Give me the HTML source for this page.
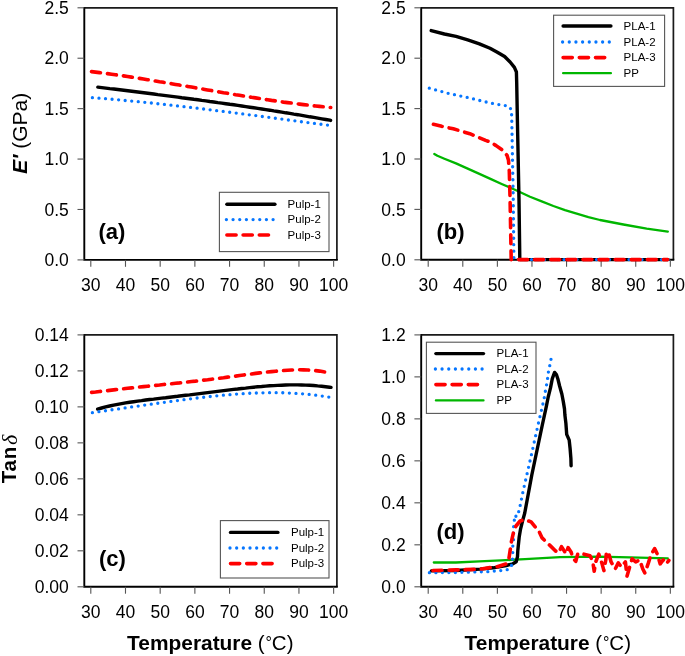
<!DOCTYPE html>
<html><head><meta charset="utf-8"><style>
html,body{margin:0;padding:0;background:#fff;}
svg{display:block;will-change:transform;}
text{font-family:"Liberation Sans", sans-serif;fill:#000;}
.t{font-size:17.5px;}
.lg{font-size:12px;}
.pl{font-size:22px;font-weight:bold;}
.ax{font-size:20.5px;}
</style></head><body>
<svg width="685" height="656" viewBox="0 0 685 656">
<rect width="685" height="656" fill="#fff"/>
<path d="M84.3,7.8 H336.9 V259.9" fill="none" stroke="#1a1a1a" stroke-width="1.7"/>
<path d="M84.3,7.0 V259.9 H337.79999999999995" fill="none" stroke="#000" stroke-width="1.9"/>
<line x1="77.5" y1="259.90" x2="84.3" y2="259.90" stroke="#555" stroke-width="1.1"/>
<text x="68.8" y="266.1" text-anchor="end" class="t">0.0</text>
<line x1="77.5" y1="209.48" x2="84.3" y2="209.48" stroke="#555" stroke-width="1.1"/>
<text x="68.8" y="215.7" text-anchor="end" class="t">0.5</text>
<line x1="77.5" y1="159.06" x2="84.3" y2="159.06" stroke="#555" stroke-width="1.1"/>
<text x="68.8" y="165.3" text-anchor="end" class="t">1.0</text>
<line x1="77.5" y1="108.64" x2="84.3" y2="108.64" stroke="#555" stroke-width="1.1"/>
<text x="68.8" y="114.8" text-anchor="end" class="t">1.5</text>
<line x1="77.5" y1="58.22" x2="84.3" y2="58.22" stroke="#555" stroke-width="1.1"/>
<text x="68.8" y="64.4" text-anchor="end" class="t">2.0</text>
<line x1="77.5" y1="7.80" x2="84.3" y2="7.80" stroke="#555" stroke-width="1.1"/>
<text x="68.8" y="14.0" text-anchor="end" class="t">2.5</text>
<line x1="90.80" y1="259.9" x2="90.80" y2="266.79999999999995" stroke="#555" stroke-width="1.1"/>
<text x="90.8" y="291.4" text-anchor="middle" class="t">30</text>
<line x1="125.49" y1="259.9" x2="125.49" y2="266.79999999999995" stroke="#555" stroke-width="1.1"/>
<text x="125.5" y="291.4" text-anchor="middle" class="t">40</text>
<line x1="160.18" y1="259.9" x2="160.18" y2="266.79999999999995" stroke="#555" stroke-width="1.1"/>
<text x="160.2" y="291.4" text-anchor="middle" class="t">50</text>
<line x1="194.87" y1="259.9" x2="194.87" y2="266.79999999999995" stroke="#555" stroke-width="1.1"/>
<text x="194.9" y="291.4" text-anchor="middle" class="t">60</text>
<line x1="229.56" y1="259.9" x2="229.56" y2="266.79999999999995" stroke="#555" stroke-width="1.1"/>
<text x="229.6" y="291.4" text-anchor="middle" class="t">70</text>
<line x1="264.25" y1="259.9" x2="264.25" y2="266.79999999999995" stroke="#555" stroke-width="1.1"/>
<text x="264.2" y="291.4" text-anchor="middle" class="t">80</text>
<line x1="298.94" y1="259.9" x2="298.94" y2="266.79999999999995" stroke="#555" stroke-width="1.1"/>
<text x="298.9" y="291.4" text-anchor="middle" class="t">90</text>
<line x1="333.63" y1="259.9" x2="333.63" y2="266.79999999999995" stroke="#555" stroke-width="1.1"/>
<text x="333.6" y="291.4" text-anchor="middle" class="t">100</text>
<path d="M91.5,71.6 L95.5,72.1 L99.5,72.6 L103.5,73.1 L107.5,73.6 L111.5,74.2 L115.5,74.8 L119.5,75.3 L123.5,75.9 L127.5,76.5 L131.5,77.1 L135.5,77.8 L139.5,78.4 L143.5,79.0 L147.5,79.7 L151.5,80.3 L155.5,81.0 L159.5,81.7 L163.5,82.3 L167.5,83.0 L171.5,83.7 L175.5,84.4 L179.5,85.1 L183.5,85.8 L187.5,86.4 L191.5,87.1 L195.5,87.8 L199.5,88.5 L203.5,89.2 L207.5,89.9 L211.5,90.6 L215.5,91.3 L219.5,92.0 L223.5,92.7 L227.5,93.3 L231.5,94.0 L235.5,94.7 L239.5,95.3 L243.5,96.0 L247.5,96.6 L251.5,97.3 L255.5,97.9 L259.5,98.5 L263.5,99.2 L267.5,99.8 L271.5,100.4 L275.5,100.9 L279.5,101.5 L283.5,102.1 L287.5,102.6 L291.5,103.1 L295.5,103.6 L299.5,104.1 L303.5,104.6 L307.5,105.1 L311.5,105.6 L315.5,106.0 L319.5,106.4 L323.5,106.8 L327.5,107.2 L330.7,107.5" fill="none" stroke="#ff0000" stroke-width="3.6" stroke-linecap="round" stroke-linejoin="round" stroke-dasharray="9.0 7.1"/>
<path d="M97.8,87.1 L101.8,87.6 L105.8,88.1 L109.8,88.6 L113.8,89.0 L117.8,89.5 L121.8,90.0 L125.8,90.5 L129.8,91.0 L133.8,91.5 L137.8,92.0 L141.8,92.5 L145.8,93.0 L149.8,93.5 L153.8,94.0 L157.8,94.6 L161.8,95.1 L165.8,95.6 L169.8,96.1 L173.8,96.6 L177.8,97.1 L181.8,97.7 L185.8,98.2 L189.8,98.7 L193.8,99.3 L197.8,99.8 L201.8,100.4 L205.8,100.9 L209.8,101.5 L213.8,102.0 L217.8,102.6 L221.8,103.1 L225.8,103.7 L229.8,104.3 L233.8,104.8 L237.8,105.4 L241.8,106.0 L245.8,106.6 L249.8,107.2 L253.8,107.8 L257.8,108.4 L261.8,109.0 L265.8,109.6 L269.8,110.2 L273.8,110.9 L277.8,111.5 L281.8,112.1 L285.8,112.8 L289.8,113.4 L293.8,114.1 L297.8,114.7 L301.8,115.4 L305.8,116.1 L309.8,116.8 L313.8,117.4 L317.8,118.1 L321.8,118.8 L325.8,119.5 L329.8,120.2 L330.6,120.4" fill="none" stroke="#000" stroke-width="3.4" stroke-linecap="round" stroke-linejoin="round"/>
<path d="M92.4,97.7 L96.4,98.0 L100.4,98.3 L104.4,98.6 L108.4,99.0 L112.4,99.3 L116.4,99.7 L120.4,100.0 L124.4,100.4 L128.4,100.8 L132.4,101.1 L136.4,101.5 L140.4,101.9 L144.4,102.3 L148.4,102.7 L152.4,103.1 L156.4,103.6 L160.4,104.0 L164.4,104.4 L168.4,104.9 L172.4,105.3 L176.4,105.8 L180.4,106.2 L184.4,106.7 L188.4,107.2 L192.4,107.6 L196.4,108.1 L200.4,108.6 L204.4,109.1 L208.4,109.6 L212.4,110.1 L216.4,110.6 L220.4,111.1 L224.4,111.6 L228.4,112.1 L232.4,112.6 L236.4,113.1 L240.4,113.6 L244.4,114.1 L248.4,114.7 L252.4,115.2 L256.4,115.7 L260.4,116.2 L264.4,116.8 L268.4,117.3 L272.4,117.8 L276.4,118.4 L280.4,118.9 L284.4,119.4 L288.4,120.0 L292.4,120.5 L296.4,121.0 L300.4,121.6 L304.4,122.1 L308.4,122.6 L312.4,123.2 L316.4,123.7 L320.4,124.2 L324.4,124.7 L327.5,125.1" fill="none" stroke="#0676ff" stroke-width="3.3" stroke-linecap="round" stroke-linejoin="round" stroke-dasharray="0 6.5758"/>
<rect x="219.4" y="192.3" width="109.6" height="59.29999999999998" fill="#fff" stroke="#555" stroke-width="1.1"/>
<path d="M226.9,204.3 L274.9,204.3" fill="none" stroke="#000" stroke-width="3.4" stroke-linecap="round" stroke-linejoin="round"/>
<text x="287.6" y="208.1" class="lg" style="font-size:11.5px">Pulp-1</text>
<path d="M226.4,219.6 L276.4,219.6" fill="none" stroke="#0676ff" stroke-width="3.3" stroke-linecap="round" stroke-linejoin="round" stroke-dasharray="0 6.67"/>
<text x="287.6" y="223.4" class="lg" style="font-size:11.5px">Pulp-2</text>
<path d="M226.9,235.0 L268.5,235.0" fill="none" stroke="#ff0000" stroke-width="3.6" stroke-linecap="round" stroke-linejoin="round" stroke-dasharray="9.2 7.0"/>
<text x="287.6" y="238.8" class="lg" style="font-size:11.5px">Pulp-3</text>
<text x="98.5" y="239" class="pl">(a)</text>
<path d="M421.2,7.8 H673.4 V259.8" fill="none" stroke="#1a1a1a" stroke-width="1.7"/>
<path d="M421.2,7.0 V259.8 H674.3" fill="none" stroke="#000" stroke-width="1.9"/>
<line x1="414.4" y1="259.80" x2="421.2" y2="259.80" stroke="#555" stroke-width="1.1"/>
<text x="405.7" y="266.0" text-anchor="end" class="t">0.0</text>
<line x1="414.4" y1="209.40" x2="421.2" y2="209.40" stroke="#555" stroke-width="1.1"/>
<text x="405.7" y="215.6" text-anchor="end" class="t">0.5</text>
<line x1="414.4" y1="159.00" x2="421.2" y2="159.00" stroke="#555" stroke-width="1.1"/>
<text x="405.7" y="165.2" text-anchor="end" class="t">1.0</text>
<line x1="414.4" y1="108.60" x2="421.2" y2="108.60" stroke="#555" stroke-width="1.1"/>
<text x="405.7" y="114.8" text-anchor="end" class="t">1.5</text>
<line x1="414.4" y1="58.20" x2="421.2" y2="58.20" stroke="#555" stroke-width="1.1"/>
<text x="405.7" y="64.4" text-anchor="end" class="t">2.0</text>
<line x1="414.4" y1="7.80" x2="421.2" y2="7.80" stroke="#555" stroke-width="1.1"/>
<text x="405.7" y="14.0" text-anchor="end" class="t">2.5</text>
<line x1="428.20" y1="259.8" x2="428.20" y2="266.7" stroke="#555" stroke-width="1.1"/>
<text x="428.2" y="291.3" text-anchor="middle" class="t">30</text>
<line x1="462.79" y1="259.8" x2="462.79" y2="266.7" stroke="#555" stroke-width="1.1"/>
<text x="462.8" y="291.3" text-anchor="middle" class="t">40</text>
<line x1="497.38" y1="259.8" x2="497.38" y2="266.7" stroke="#555" stroke-width="1.1"/>
<text x="497.4" y="291.3" text-anchor="middle" class="t">50</text>
<line x1="531.97" y1="259.8" x2="531.97" y2="266.7" stroke="#555" stroke-width="1.1"/>
<text x="532.0" y="291.3" text-anchor="middle" class="t">60</text>
<line x1="566.56" y1="259.8" x2="566.56" y2="266.7" stroke="#555" stroke-width="1.1"/>
<text x="566.6" y="291.3" text-anchor="middle" class="t">70</text>
<line x1="601.15" y1="259.8" x2="601.15" y2="266.7" stroke="#555" stroke-width="1.1"/>
<text x="601.1" y="291.3" text-anchor="middle" class="t">80</text>
<line x1="635.74" y1="259.8" x2="635.74" y2="266.7" stroke="#555" stroke-width="1.1"/>
<text x="635.7" y="291.3" text-anchor="middle" class="t">90</text>
<line x1="670.33" y1="259.8" x2="670.33" y2="266.7" stroke="#555" stroke-width="1.1"/>
<text x="670.3" y="291.3" text-anchor="middle" class="t">100</text>
<path d="M434.3,154.0 L437.4,155.8 L444.4,158.7 L456.0,163.4 L467.7,168.6 L479.4,173.9 L491.0,179.1 L502.2,184.2 L514.4,189.5 L530.0,196.8 L541.7,201.4 L553.4,206.0 L565.0,210.1 L576.7,213.6 L588.4,217.1 L600.0,220.0 L623.4,224.5 L646.7,228.6 L667.8,231.7" fill="none" stroke="#00b600" stroke-width="2.3" stroke-linecap="round" stroke-linejoin="round"/>
<path d="M431.2,30.6 L444.4,34.0 L456.0,36.4 L467.7,39.9 L479.4,43.9 L490.0,48.3 L497.3,52.2 L504.6,56.5 L510.1,62.0 L514.4,67.4 L516.4,72.0 L516.7,82.7 L517.4,120.0 L519.0,200.0 L519.8,259.6 L668.0,259.6" fill="none" stroke="#000" stroke-width="3.4" stroke-linecap="round" stroke-linejoin="round"/>
<path d="M429.3,88.2 L449.7,93.7 L469.2,97.9 L489.3,102.8 L496.0,104.1 L502.2,105.2 L508.3,105.9 L511.3,109.5 L511.7,116.2 L511.8,122.0 L513.2,196.0 L513.9,259.6 L668.0,259.6" fill="none" stroke="#0676ff" stroke-width="3.3" stroke-linecap="round" stroke-linejoin="round" stroke-dasharray="0 6.4990"/>
<path d="M433.4,124.3 L441.7,126.3 L453.3,128.8 L469.8,133.7 L485.6,140.4 L490.0,141.8 L496.1,145.6 L502.0,149.8 L507.1,155.4 L508.5,160.2 L509.3,171.2 L510.1,200.0 L511.2,259.6 L667.6,259.6" fill="none" stroke="#ff0000" stroke-width="3.6" stroke-linecap="round" stroke-linejoin="round" stroke-dasharray="9.0 7.1"/>
<rect x="553.6" y="15.2" width="111.0" height="71.2" fill="#fff" stroke="#555" stroke-width="1.1"/>
<path d="M563.1,26.0 L610.9,26.0" fill="none" stroke="#000" stroke-width="3.4" stroke-linecap="round" stroke-linejoin="round"/>
<text x="623.6" y="29.8" class="lg" style="font-size:11.5px">PLA-1</text>
<path d="M562.6,42.0 L612.4,42.0" fill="none" stroke="#0676ff" stroke-width="3.3" stroke-linecap="round" stroke-linejoin="round" stroke-dasharray="0 6.67"/>
<text x="623.6" y="45.8" class="lg" style="font-size:11.5px">PLA-2</text>
<path d="M563.1,57.6 L604.7,57.6" fill="none" stroke="#ff0000" stroke-width="3.6" stroke-linecap="round" stroke-linejoin="round" stroke-dasharray="9.2 7.0"/>
<text x="623.6" y="61.4" class="lg" style="font-size:11.5px">PLA-3</text>
<path d="M563.1,73.2 L610.9,73.2" fill="none" stroke="#00b600" stroke-width="2.3" stroke-linecap="round" stroke-linejoin="round"/>
<text x="623.6" y="77.0" class="lg" style="font-size:11.5px">PP</text>
<text x="436.4" y="239" class="pl">(b)</text>
<path d="M84.3,334.9 H336.9 V586.8" fill="none" stroke="#1a1a1a" stroke-width="1.7"/>
<path d="M84.3,334.09999999999997 V586.8 H337.79999999999995" fill="none" stroke="#000" stroke-width="1.9"/>
<line x1="77.5" y1="586.80" x2="84.3" y2="586.80" stroke="#555" stroke-width="1.1"/>
<text x="68.8" y="593.0" text-anchor="end" class="t">0.00</text>
<line x1="77.5" y1="550.81" x2="84.3" y2="550.81" stroke="#555" stroke-width="1.1"/>
<text x="68.8" y="557.0" text-anchor="end" class="t">0.02</text>
<line x1="77.5" y1="514.83" x2="84.3" y2="514.83" stroke="#555" stroke-width="1.1"/>
<text x="68.8" y="521.0" text-anchor="end" class="t">0.04</text>
<line x1="77.5" y1="478.84" x2="84.3" y2="478.84" stroke="#555" stroke-width="1.1"/>
<text x="68.8" y="485.0" text-anchor="end" class="t">0.06</text>
<line x1="77.5" y1="442.86" x2="84.3" y2="442.86" stroke="#555" stroke-width="1.1"/>
<text x="68.8" y="449.1" text-anchor="end" class="t">0.08</text>
<line x1="77.5" y1="406.87" x2="84.3" y2="406.87" stroke="#555" stroke-width="1.1"/>
<text x="68.8" y="413.1" text-anchor="end" class="t">0.10</text>
<line x1="77.5" y1="370.89" x2="84.3" y2="370.89" stroke="#555" stroke-width="1.1"/>
<text x="68.8" y="377.1" text-anchor="end" class="t">0.12</text>
<line x1="77.5" y1="334.90" x2="84.3" y2="334.90" stroke="#555" stroke-width="1.1"/>
<text x="68.8" y="341.1" text-anchor="end" class="t">0.14</text>
<line x1="90.80" y1="586.8" x2="90.80" y2="593.6999999999999" stroke="#555" stroke-width="1.1"/>
<text x="90.8" y="618.3" text-anchor="middle" class="t">30</text>
<line x1="125.49" y1="586.8" x2="125.49" y2="593.6999999999999" stroke="#555" stroke-width="1.1"/>
<text x="125.5" y="618.3" text-anchor="middle" class="t">40</text>
<line x1="160.18" y1="586.8" x2="160.18" y2="593.6999999999999" stroke="#555" stroke-width="1.1"/>
<text x="160.2" y="618.3" text-anchor="middle" class="t">50</text>
<line x1="194.87" y1="586.8" x2="194.87" y2="593.6999999999999" stroke="#555" stroke-width="1.1"/>
<text x="194.9" y="618.3" text-anchor="middle" class="t">60</text>
<line x1="229.56" y1="586.8" x2="229.56" y2="593.6999999999999" stroke="#555" stroke-width="1.1"/>
<text x="229.6" y="618.3" text-anchor="middle" class="t">70</text>
<line x1="264.25" y1="586.8" x2="264.25" y2="593.6999999999999" stroke="#555" stroke-width="1.1"/>
<text x="264.2" y="618.3" text-anchor="middle" class="t">80</text>
<line x1="298.94" y1="586.8" x2="298.94" y2="593.6999999999999" stroke="#555" stroke-width="1.1"/>
<text x="298.9" y="618.3" text-anchor="middle" class="t">90</text>
<line x1="333.63" y1="586.8" x2="333.63" y2="593.6999999999999" stroke="#555" stroke-width="1.1"/>
<text x="333.6" y="618.3" text-anchor="middle" class="t">100</text>
<path d="M91.6,392.4 L95.6,392.0 L99.6,391.5 L103.6,391.0 L107.6,390.6 L111.6,390.1 L115.6,389.6 L119.6,389.2 L123.6,388.8 L127.6,388.3 L131.6,387.9 L135.6,387.5 L139.6,387.0 L143.6,386.6 L147.6,386.2 L151.6,385.8 L155.6,385.4 L159.6,385.0 L163.6,384.5 L167.6,384.1 L171.6,383.7 L175.6,383.3 L179.6,382.9 L183.6,382.4 L187.6,382.0 L191.6,381.5 L195.6,381.1 L199.6,380.6 L203.6,380.1 L207.6,379.7 L211.6,379.2 L215.6,378.7 L219.6,378.2 L223.6,377.7 L227.6,377.1 L231.6,376.6 L235.6,376.1 L239.6,375.5 L243.6,375.0 L247.6,374.5 L251.6,374.0 L255.6,373.4 L259.6,372.9 L263.6,372.5 L267.6,372.0 L271.6,371.6 L275.6,371.2 L279.6,370.8 L283.6,370.5 L287.6,370.2 L291.6,370.0 L295.6,369.9 L299.6,369.8 L303.6,369.9 L307.6,370.0 L311.6,370.3 L315.6,370.6 L319.6,371.1 L323.6,371.8 L324.8,372.0" fill="none" stroke="#ff0000" stroke-width="3.6" stroke-linecap="round" stroke-linejoin="round" stroke-dasharray="9.0 7.1"/>
<path d="M97.6,409.1 L101.6,408.0 L105.6,406.9 L109.6,406.0 L113.6,405.1 L117.6,404.3 L121.6,403.6 L125.6,402.9 L129.6,402.3 L133.6,401.7 L137.6,401.1 L141.6,400.6 L145.6,400.0 L149.6,399.5 L153.6,399.1 L157.6,398.6 L161.6,398.1 L165.6,397.7 L169.6,397.2 L173.6,396.7 L177.6,396.3 L181.6,395.8 L185.6,395.3 L189.6,394.9 L193.6,394.4 L197.6,393.9 L201.6,393.4 L205.6,392.9 L209.6,392.4 L213.6,391.9 L217.6,391.4 L221.6,390.9 L225.6,390.4 L229.6,389.9 L233.6,389.4 L237.6,389.0 L241.6,388.5 L245.6,388.1 L249.6,387.6 L253.6,387.2 L257.6,386.8 L261.6,386.5 L265.6,386.1 L269.6,385.8 L273.6,385.6 L277.6,385.4 L281.6,385.2 L285.6,385.0 L289.6,384.9 L293.6,384.9 L297.6,384.9 L301.6,385.0 L305.6,385.1 L309.6,385.3 L313.6,385.5 L317.6,385.9 L321.6,386.2 L325.6,386.7 L329.6,387.2 L331.0,387.4" fill="none" stroke="#000" stroke-width="3.4" stroke-linecap="round" stroke-linejoin="round"/>
<path d="M92.4,412.7 L96.4,412.1 L100.4,411.5 L104.4,410.9 L108.4,410.3 L112.4,409.7 L116.4,409.2 L120.4,408.6 L124.4,408.0 L128.4,407.4 L132.4,406.8 L136.4,406.3 L140.4,405.7 L144.4,405.1 L148.4,404.6 L152.4,404.0 L156.4,403.4 L160.4,402.9 L164.4,402.3 L168.4,401.8 L172.4,401.2 L176.4,400.7 L180.4,400.2 L184.4,399.6 L188.4,399.1 L192.4,398.6 L196.4,398.1 L200.4,397.6 L204.4,397.2 L208.4,396.7 L212.4,396.3 L216.4,395.9 L220.4,395.5 L224.4,395.1 L228.4,394.8 L232.4,394.4 L236.4,394.1 L240.4,393.8 L244.4,393.6 L248.4,393.3 L252.4,393.1 L256.4,393.0 L260.4,392.9 L264.4,392.8 L268.4,392.7 L272.4,392.7 L276.4,392.7 L280.4,392.7 L284.4,392.8 L288.4,393.0 L292.4,393.2 L296.4,393.4 L300.4,393.7 L304.4,394.0 L308.4,394.4 L312.4,394.8 L316.4,395.3 L320.4,395.8 L324.4,396.4 L328.4,397.0 L328.8,397.1" fill="none" stroke="#0676ff" stroke-width="3.3" stroke-linecap="round" stroke-linejoin="round" stroke-dasharray="0 6.6084"/>
<rect x="220.4" y="520.6" width="108.6" height="57.39999999999998" fill="#fff" stroke="#555" stroke-width="1.1"/>
<path d="M230.5,532.4 L277.9,532.4" fill="none" stroke="#000" stroke-width="3.4" stroke-linecap="round" stroke-linejoin="round"/>
<text x="291" y="536.2" class="lg" style="font-size:11.5px">Pulp-1</text>
<path d="M230.0,548.0 L279.4,548.0" fill="none" stroke="#0676ff" stroke-width="3.3" stroke-linecap="round" stroke-linejoin="round" stroke-dasharray="0 6.67"/>
<text x="291" y="551.8" class="lg" style="font-size:11.5px">Pulp-2</text>
<path d="M230.5,563.6 L272.1,563.6" fill="none" stroke="#ff0000" stroke-width="3.6" stroke-linecap="round" stroke-linejoin="round" stroke-dasharray="9.2 7.0"/>
<text x="291" y="567.4" class="lg" style="font-size:11.5px">Pulp-3</text>
<text x="98.9" y="566.1" class="pl">(c)</text>
<path d="M421.2,334.9 H673.4 V586.8" fill="none" stroke="#1a1a1a" stroke-width="1.7"/>
<path d="M421.2,334.09999999999997 V586.8 H674.3" fill="none" stroke="#000" stroke-width="1.9"/>
<line x1="414.4" y1="586.80" x2="421.2" y2="586.80" stroke="#555" stroke-width="1.1"/>
<text x="405.7" y="593.0" text-anchor="end" class="t">0.0</text>
<line x1="414.4" y1="544.82" x2="421.2" y2="544.82" stroke="#555" stroke-width="1.1"/>
<text x="405.7" y="551.0" text-anchor="end" class="t">0.2</text>
<line x1="414.4" y1="502.83" x2="421.2" y2="502.83" stroke="#555" stroke-width="1.1"/>
<text x="405.7" y="509.0" text-anchor="end" class="t">0.4</text>
<line x1="414.4" y1="460.85" x2="421.2" y2="460.85" stroke="#555" stroke-width="1.1"/>
<text x="405.7" y="467.0" text-anchor="end" class="t">0.6</text>
<line x1="414.4" y1="418.87" x2="421.2" y2="418.87" stroke="#555" stroke-width="1.1"/>
<text x="405.7" y="425.1" text-anchor="end" class="t">0.8</text>
<line x1="414.4" y1="376.88" x2="421.2" y2="376.88" stroke="#555" stroke-width="1.1"/>
<text x="405.7" y="383.1" text-anchor="end" class="t">1.0</text>
<line x1="414.4" y1="334.90" x2="421.2" y2="334.90" stroke="#555" stroke-width="1.1"/>
<text x="405.7" y="341.1" text-anchor="end" class="t">1.2</text>
<line x1="428.20" y1="586.8" x2="428.20" y2="593.6999999999999" stroke="#555" stroke-width="1.1"/>
<text x="428.2" y="618.3" text-anchor="middle" class="t">30</text>
<line x1="462.79" y1="586.8" x2="462.79" y2="593.6999999999999" stroke="#555" stroke-width="1.1"/>
<text x="462.8" y="618.3" text-anchor="middle" class="t">40</text>
<line x1="497.38" y1="586.8" x2="497.38" y2="593.6999999999999" stroke="#555" stroke-width="1.1"/>
<text x="497.4" y="618.3" text-anchor="middle" class="t">50</text>
<line x1="531.97" y1="586.8" x2="531.97" y2="593.6999999999999" stroke="#555" stroke-width="1.1"/>
<text x="532.0" y="618.3" text-anchor="middle" class="t">60</text>
<line x1="566.56" y1="586.8" x2="566.56" y2="593.6999999999999" stroke="#555" stroke-width="1.1"/>
<text x="566.6" y="618.3" text-anchor="middle" class="t">70</text>
<line x1="601.15" y1="586.8" x2="601.15" y2="593.6999999999999" stroke="#555" stroke-width="1.1"/>
<text x="601.1" y="618.3" text-anchor="middle" class="t">80</text>
<line x1="635.74" y1="586.8" x2="635.74" y2="593.6999999999999" stroke="#555" stroke-width="1.1"/>
<text x="635.7" y="618.3" text-anchor="middle" class="t">90</text>
<line x1="670.33" y1="586.8" x2="670.33" y2="593.6999999999999" stroke="#555" stroke-width="1.1"/>
<text x="670.3" y="618.3" text-anchor="middle" class="t">100</text>
<path d="M433.8,562.5 L456.0,562.5 L479.4,561.4 L501.0,560.3 L525.0,559.2 L560.0,557.2 L598.0,556.6 L630.0,557.4 L667.8,558.3" fill="none" stroke="#00b600" stroke-width="2.3" stroke-linecap="round" stroke-linejoin="round"/>
<path d="M431.4,570.9 L456.0,570.5 L480.0,569.1 L493.2,567.8 L506.3,565.5 L512.9,563.8 L516.2,561.8 L517.5,556.6 L517.8,550.7 L519.2,537.0 L520.6,528.8 L522.4,521.5 L524.7,513.2 L531.8,475.0 L542.2,425.5 L546.4,406.2 L548.2,397.0 L550.5,387.9 L552.3,378.7 L554.6,372.4 L556.4,374.5 L557.8,378.7 L559.6,386.0 L561.9,394.3 L563.3,401.6 L564.5,408.9 L564.9,415.0 L565.9,423.4 L566.7,434.3 L569.2,440.1 L570.1,448.5 L570.9,458.6 L571.1,465.8" fill="none" stroke="#000" stroke-width="3.4" stroke-linecap="round" stroke-linejoin="round"/>
<path d="M429.4,572.7 L456.0,572.5 L482.6,571.7 L489.2,571.7 L496.1,570.9 L502.7,570.4 L508.9,569.4 L511.9,564.8 L512.6,557.9 L512.8,551.2 L512.8,545.3 L513.7,537.9 L513.5,531.5 L513.7,524.7 L514.6,518.3 L516.9,518.3 L515.1,514.6 L518.8,511.6 L520.1,505.9 L523.0,491.6 L530.6,458.4 L537.9,425.5 L544.0,399.3 L545.2,392.1 L546.4,385.7 L547.5,379.2 L548.3,372.5 L549.7,366.0 L551.0,359.3" fill="none" stroke="#0676ff" stroke-width="3.3" stroke-linecap="round" stroke-linejoin="round" stroke-dasharray="0 6.4937"/>
<path d="M433.0,570.5 L456.0,569.9 L479.4,569.2 L489.9,567.6 L497.1,566.8 L506.3,563.8 L508.9,558.6 L509.6,553.9 L510.5,548.0 L511.4,541.6 L513.7,531.5 L516.0,526.0 L520.1,521.0 L524.7,519.6 L531.1,521.9 L539.3,532.0 L542.1,537.9 L551.7,547.1 L555.8,551.2 L558.9,552.7 L561.5,546.6 L566.0,553.7 L568.1,547.6 L571.2,552.2 L572.7,557.8 L575.8,561.4 L577.8,553.7 L581.4,553.2 L584.0,554.2 L590.0,555.8 L591.1,557.8 L593.1,564.0 L594.2,571.1 L595.7,561.9 L598.8,554.2 L601.8,562.9 L603.9,570.6 L605.9,559.3 L606.4,551.7 L609.1,554.7 L611.1,561.9 L615.2,569.0 L618.3,562.9 L621.4,567.0 L625.4,561.9 L627.0,576.2 L630.5,564.0 L632.1,558.8 L635.7,561.9 L639.7,559.9 L642.8,569.0 L644.9,573.1 L648.4,562.9 L651.0,554.7 L654.6,548.6 L657.1,553.7 L660.2,563.9 L663.2,559.9 L666.3,563.9 L668.9,560.4" fill="none" stroke="#ff0000" stroke-width="3.6" stroke-linecap="round" stroke-linejoin="round" stroke-dasharray="9.0 7.1"/>
<rect x="426.4" y="342.2" width="109.60000000000002" height="71.19999999999999" fill="#fff" stroke="#555" stroke-width="1.1"/>
<path d="M435.9,353.6 L483.5,353.6" fill="none" stroke="#000" stroke-width="3.4" stroke-linecap="round" stroke-linejoin="round"/>
<text x="496.6" y="357.4" class="lg" style="font-size:11.5px">PLA-1</text>
<path d="M435.4,369.0 L485.0,369.0" fill="none" stroke="#0676ff" stroke-width="3.3" stroke-linecap="round" stroke-linejoin="round" stroke-dasharray="0 6.67"/>
<text x="496.6" y="372.8" class="lg" style="font-size:11.5px">PLA-2</text>
<path d="M435.9,384.6 L477.5,384.6" fill="none" stroke="#ff0000" stroke-width="3.6" stroke-linecap="round" stroke-linejoin="round" stroke-dasharray="9.2 7.0"/>
<text x="496.6" y="388.4" class="lg" style="font-size:11.5px">PLA-3</text>
<path d="M435.9,400.4 L483.5,400.4" fill="none" stroke="#00b600" stroke-width="2.3" stroke-linecap="round" stroke-linejoin="round"/>
<text x="496.6" y="404.2" class="lg" style="font-size:11.5px">PP</text>
<text x="436.5" y="539.2" class="pl">(d)</text>
<text transform="translate(27.2,133.3) rotate(-90)" text-anchor="middle" class="ax" style="font-size:21px"><tspan style="font-weight:bold;font-style:italic">E&#8242;</tspan> (GPa)</text>
<text transform="translate(16,459) rotate(-90)" text-anchor="middle" class="ax"><tspan style="font-weight:bold;letter-spacing:0.7px">Tan</tspan><tspan dx="1" dy="1" style="font-style:italic;font-size:22px;font-family:'Liberation Serif',serif">&#948;</tspan></text>
<text x="210.3" y="650" text-anchor="middle" class="ax"><tspan style="font-weight:bold;font-size:20.9px">Temperature</tspan> (<tspan style="font-size:16px" dx="0.8" dy="-1.8">&#176;</tspan><tspan dy="1.8">C)</tspan></text>
<text x="547.8" y="650" text-anchor="middle" class="ax"><tspan style="font-weight:bold;font-size:20.9px">Temperature</tspan> (<tspan style="font-size:16px" dx="0.8" dy="-1.8">&#176;</tspan><tspan dy="1.8">C)</tspan></text>
</svg>
</body></html>
